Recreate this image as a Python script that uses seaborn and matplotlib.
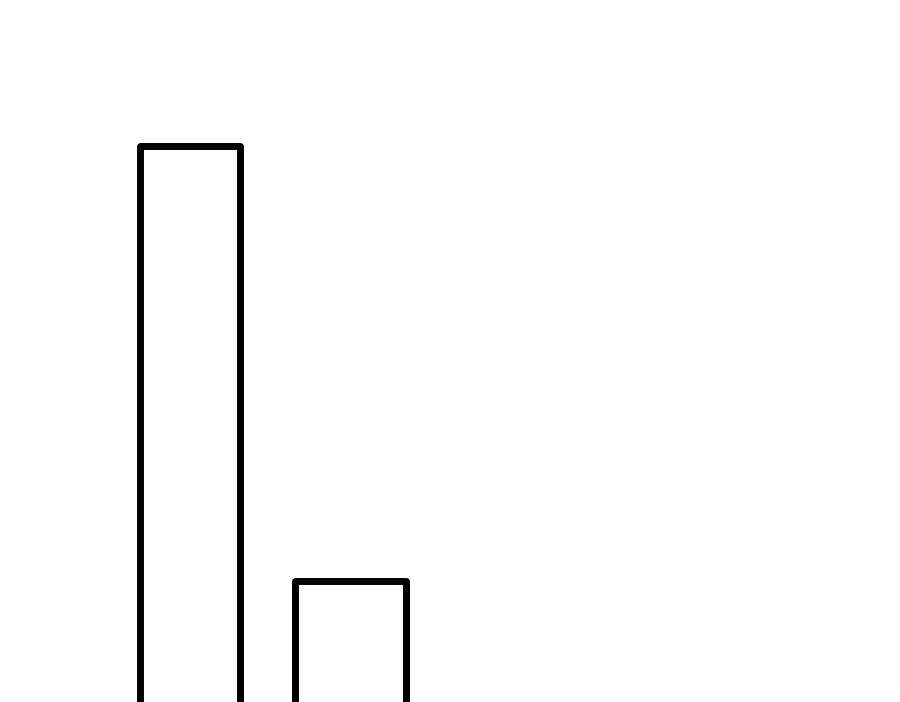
import numpy as np
import pandas as pd
import matplotlib
matplotlib.use("Agg")
import matplotlib.pyplot as plt
import seaborn as sns

# Datos: dos barras de ancho distinto (bordes de los intervalos) y sus alturas
bordes = [1.40, 2.40, 2.95, 4.06]
alturas = [12.0, 0.0, 3.4]

centros = [(a + b) / 2 for a, b in zip(bordes[:-1], bordes[1:])]
datos = pd.DataFrame({"x": centros, "altura": alturas})

sns.set_style("white")
fig = plt.figure(figsize=(9, 7.02), dpi=100)
ax = fig.add_axes([0, 0, 1, 1])

sns.histplot(data=datos, x="x", weights="altura", bins=bordes,
             fill=False, color="black", linewidth=5, ax=ax)

for p in ax.patches:
    p.set_joinstyle("round")
    p.set_edgecolor("black")

ax.set_xlim(0, 9)
ax.set_ylim(1.0, 14.88)
ax.axis("off")

plt.savefig("out.png", dpi=100)
plt.close()
